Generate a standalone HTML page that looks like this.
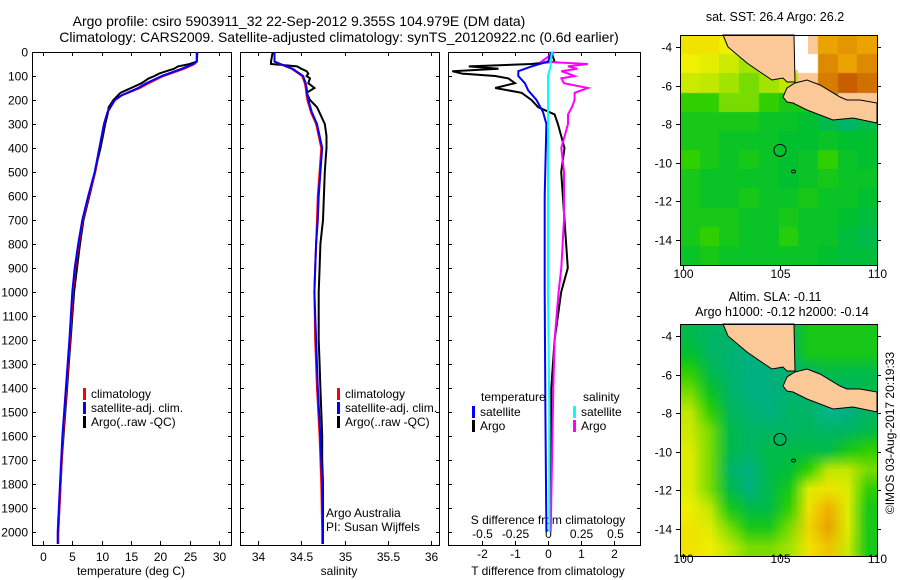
<!DOCTYPE html>
<html><head><meta charset="utf-8"><style>
body{margin:0;background:#fff;width:900px;height:580px;overflow:hidden;position:relative;font-family:"Liberation Sans",sans-serif}
canvas{position:absolute}
svg{position:absolute;left:0;top:0}
text{font-family:"Liberation Sans",sans-serif;font-size:12px;fill:#000}
text.big{font-size:14px}
text.mid{font-size:12.5px}
</style></head><body>
<canvas id="sst" width="197" height="230" style="left:680px;top:35px"></canvas>
<canvas id="sla" width="197" height="232" style="left:680px;top:324px"></canvas>
<svg id="s" width="900" height="580"></svg>
<script>
// ---- data ----
const climDepth=[0,40,50,70,100,130,150,180,200,250,300,400,500,600,700,800,900,1000,1200,1400,1600,1800,2000,2050];
const climTemp=[26.2,26.2,25.8,24,20.5,18,16.5,13.5,12.3,11,10.4,9.6,8.9,7.8,6.8,6.1,5.5,5.1,4.6,4.0,3.4,3.0,2.6,2.6];
const satTemp=[26.2,26.2,25.6,23.6,20.2,17.6,16.2,13.4,12.2,11,10.4,9.6,8.8,7.7,6.7,6.0,5.4,5.0,4.5,3.9,3.3,2.9,2.5,2.5];
const argoDepth=[0,40,50,60,70,80,90,100,110,130,150,170,200,230,260,300,350,400,450,500,600,700,800,900,1000,1100,1200,1300,1400,1500,1600,1700,1800,1900,2000];
const argoTemp=[26.3,26.2,25,23,22.3,21,19.8,19,18,16.8,15,13.2,12,11.2,11,10.6,10.2,9.8,9.3,8.9,7.9,6.9,6.3,5.8,5.3,5.0,4.7,4.4,4.1,3.8,3.5,3.2,3.0,2.8,2.6];
const climSal=[34.19,34.19,34.25,34.39,34.51,34.54,34.55,34.56,34.57,34.61,34.67,34.73,34.71,34.69,34.68,34.67,34.66,34.65,34.66,34.68,34.71,34.73,34.74,34.74];
const satSal=[34.19,34.19,34.26,34.40,34.52,34.55,34.56,34.57,34.58,34.62,34.68,34.74,34.72,34.70,34.69,34.67,34.66,34.65,34.67,34.69,34.72,34.74,34.75,34.75];
const argoSal=[34.17,34.15,34.15,34.45,34.5,34.56,34.58,34.56,34.6,34.58,34.65,34.56,34.6,34.68,34.72,34.77,34.79,34.79,34.78,34.77,34.76,34.75,34.72,34.71,34.70,34.70,34.70,34.71,34.72,34.73,34.74,34.74,34.75,34.75,34.75];
const tDiffDepth=[0,40,60,80,100,130,160,200,250,300,600,1000,1500,2000];
const tSatDiff=[0.1,0,-0.5,-0.9,-0.9,-0.7,-0.6,-0.35,-0.15,-0.05,-0.1,-0.1,-0.08,-0.05];
const sSatDiff=[0.03,0.02,0.02,0.01,0,0,0,0,0,0,0,0,0.01,0.01];
const aDiffDepth=[0,40,50,60,70,80,90,100,110,130,150,170,200,230,260,300,400,500,700,900,1000,1200,1400,1700,2000];
const tArgoDiff=[0.1,0.2,-0.5,-2.4,-1.5,-2.9,-2.6,-1.6,-1.2,-1.0,-1.6,-0.8,-0.5,-0.3,0.2,0.3,0.5,0.4,0.5,0.6,0.4,0.2,0.1,0.1,0.05];
const sArgoDiff=[0.05,-0.05,0.3,0.15,0.22,0.1,0.15,0.2,0.1,0.12,0.3,0.2,0.2,0.18,0.15,0.15,0.1,0.12,0.12,0.1,0.08,0.05,0.04,0.03,0.02];
const depthTicks=[0,100,200,300,400,500,600,700,800,900,1000,1100,1200,1300,1400,1500,1600,1700,1800,1900,2000];
const tempTicks=[0,5,10,15,20,25,30];
const salTicks=[34,34.5,35,35.5,36];
const tdTicks=[-2,-1,0,1,2];
const sdTicks=[-0.5,-0.25,0,0.25,0.5];
const sstGrid=[
[.7,.7,.68,.62,-2,-2,-2,.8,.82,.8],
[.68,.66,.62,.58,.6,-2,-1,.84,.8,.84],
[.62,.6,.58,.55,.58,.6,-2,.86,.9,.88],
[.5,.5,.55,.55,.5,.45,.45,.45,-2,-2],
[.45,.45,.45,.45,.42,.42,.4,.35,.3,.35],
[.45,.45,.42,.42,.42,.4,.4,.42,.4,.4],
[.5,.45,.42,.45,.42,.4,.42,.5,.42,.4],
[.45,.42,.42,.42,.42,.4,.42,.45,.42,.42],
[.45,.42,.42,.45,.42,.42,.45,.42,.42,.4],
[.45,.45,.45,.42,.42,.45,.42,.42,.4,.38],
[.45,.5,.45,.42,.42,.48,.42,.42,.38,.35],
[.42,.45,.42,.42,.42,.42,.42,.4,.38,.38]];
const slaGrid=[
[.35,.3,.3,.3,.3,.3,.45,.45,.45,.45],
[.4,.3,.28,.25,.28,.3,.45,.45,.45,.45],
[.5,.35,.28,.25,.25,.28,.3,.35,.35,.35],
[.55,.42,.3,.25,.25,.28,.28,.3,.3,.35],
[.6,.5,.32,.28,.25,.3,.3,.2,.25,.3],
[.62,.55,.35,.3,.3,.3,.32,.3,.3,.35],
[.65,.55,.35,.3,.35,.35,.35,.35,.45,.5],
[.65,.55,.3,.25,.35,.38,.5,.6,.6,.55],
[.65,.55,.35,.25,.35,.45,.65,.7,.65,.5],
[.68,.6,.45,.35,.35,.5,.7,.78,.65,.45],
[.7,.65,.55,.45,.45,.55,.72,.8,.65,.45],
[.7,.68,.6,.55,.55,.58,.7,.75,.62,.45]];
const lonTicks=[100,105,110];
const latTicks=[-4,-6,-8,-10,-12,-14];
const argoLon=105.0, argoLat=-9.355;

// ---- scales ----
const yD=d=>52+d*0.24;
const xT=t=>43+t*5.87;
const xS=s=>258+(s-34)*86.7;
const xTd=t=>548+t*33;
const xSd=s=>548+s*133;
const mX=lon=>683+(lon-100)*19.4;
const mY=(lat,off)=>47+off+(-4-lat)*19.3;

const NS='http://www.w3.org/2000/svg';
const svg=document.getElementById('s');
function el(tag,attrs,parent){const e=document.createElementNS(NS,tag);for(const k in attrs)e.setAttribute(k,attrs[k]);(parent||svg).appendChild(e);return e;}
function txt(x,y,s,anchor,nm){const t=el('text',{x:x,y:y,'text-anchor':anchor||'start'});t.textContent=s;


return t;}
function pline(xs,ys,color,nm,w){const pts=xs.map((x,i)=>x.toFixed(1)+','+ys[i].toFixed(1)).join(' ');
const p=el('polyline',{points:pts,fill:'none',stroke:color,'stroke-width':w||2});


return p;}
function frameRect(x1,y1,x2,y2,nm){const r=el('rect',{x:x1+.5,y:y1+.5,width:x2-x1,height:y2-y1,fill:'none',stroke:'#000','stroke-width':1});

}
function tick(x1,y1,x2,y2){el('line',{x1:x1,y1:y1,x2:x2,y2:y2,stroke:'#000','stroke-width':1});}

// titles
txt(299,26,'Argo profile: csiro 5903911_32 22-Sep-2012 9.355S 104.979E (DM data)','middle','title-line-1').setAttribute('class','big');
txt(339,42,'Climatology: CARS2009. Satellite-adjusted climatology: synTS_20120922.nc (0.6d earlier)','middle','title-line-2').setAttribute('class','big');

const yTop=52,yBot=545;
frameRect(32,yTop,231,yBot,'temperature-panel');
frameRect(240,yTop,439,yBot,'salinity-panel');
frameRect(448,yTop,640,yBot,'difference-panel');
depthTicks.forEach(d=>{const y=Math.round(yD(d))+.5;txt(28,y+4,String(d),'end','depth-tick-label');
[[32,232],[240,440],[448,641]].forEach(([a,b])=>{tick(a,y,a+4,y);tick(b-4,y,b,y);});});
tempTicks.forEach(t=>{const x=Math.round(xT(t))+.5;tick(x,yTop,x,yTop+4);tick(x,yBot-4,x,yBot);txt(x,561,String(t),'middle','temperature-tick-label');});
salTicks.forEach(s=>{const x=Math.round(xS(s))+.5;tick(x,yTop,x,yTop+4);tick(x,yBot-4,x,yBot);txt(x,561,String(s),'middle','salinity-tick-label');});
tdTicks.forEach(t=>{const x=Math.round(xTd(t))+.5;tick(x,yBot-4,x,yBot);txt(x,558,String(t),'middle','t-diff-tick-label');});
sdTicks.forEach(s=>{const x=Math.round(xSd(s))+.5;tick(x,yTop,x,yTop+4);txt(x,538,String(s),'middle','s-diff-tick-label');});
txt(131,575,'temperature (deg C)','middle','temperature-axis-title');
txt(339,575,'salinity','middle','salinity-axis-title');
txt(548,575,'T difference from climatology','middle','t-diff-axis-title');
txt(548,524,'S difference from climatology','middle','s-diff-axis-title');

// temperature
pline(argoDepth.map((_,i)=>xT(argoTemp[i])),argoDepth.map(yD),'#000','argo-temperature-line');
pline(climDepth.map((_,i)=>xT(climTemp[i])),climDepth.map(yD),'#f00','climatology-temperature-line');
pline(climDepth.map((_,i)=>xT(satTemp[i])),climDepth.map(yD),'#00f','satellite-temperature-line');
// salinity
pline(argoDepth.map((_,i)=>xS(argoSal[i])),argoDepth.map(yD),'#000','argo-salinity-line');
pline(climDepth.map((_,i)=>xS(climSal[i])),climDepth.map(yD),'#f00','climatology-salinity-line');
pline(climDepth.map((_,i)=>xS(satSal[i])),climDepth.map(yD),'#00f','satellite-salinity-line');
// differences
pline(aDiffDepth.map((_,i)=>xTd(tArgoDiff[i])),aDiffDepth.map(yD),'#000','argo-t-diff-line');
pline(aDiffDepth.map((_,i)=>xSd(sArgoDiff[i])),aDiffDepth.map(yD),'#f0f','argo-s-diff-line');
pline(tDiffDepth.map((_,i)=>xTd(tSatDiff[i])),tDiffDepth.map(yD),'#00f','satellite-t-diff-line');
pline(tDiffDepth.map((_,i)=>xSd(sSatDiff[i])),tDiffDepth.map(yD),'#0ff','satellite-s-diff-line');

// legends
function leg(x,y,color,label,nm){const r=el('rect',{x:x,y:y-9,width:3,height:12,fill:color});


txt(x+8,y+1,label,'start',nm);}
leg(83,397,'#f00','climatology','legend-climatology');
leg(83,411,'#00f','satellite-adj. clim.','legend-satellite');
leg(83,425,'#000','Argo(..raw -QC)','legend-argo');
leg(337,397,'#f00','climatology','legend-climatology-sal');
leg(337,411,'#00f','satellite-adj. clim.','legend-satellite-sal');
leg(337,425,'#000','Argo(..raw -QC)','legend-argo-sal');
txt(481,401,'temperature','start','legend-temperature-heading');
txt(583,401,'salinity','start','legend-salinity-heading');
leg(472,415,'#00f','satellite','legend-t-satellite');
leg(472,429,'#000','Argo','legend-t-argo');
leg(573,415,'#0ff','satellite','legend-s-satellite');
leg(573,429,'#f0f','Argo','legend-s-argo');
txt(326,517,'Argo Australia','start','credit-argo-australia');
txt(326,531,'PI: Susan Wijffels','start','credit-pi');

// ---- maps ----
const stops=[[0,[48,208,208]],[0.25,[0,176,128]],[0.4,[0,192,48]],[0.5,[48,208,0]],[0.6,[192,232,0]],[0.68,[240,240,0]],[0.78,[240,176,0]],[0.88,[208,112,0]],[1,[160,0,0]]];
function cmap(v){for(let i=1;i<stops.length;i++){if(v<=stops[i][0]){const a=stops[i-1],b=stops[i],f=(v-a[0])/(b[0]-a[0]);return a[1].map((c,k)=>Math.round(c+(b[1][k]-c)*f));}}return stops[stops.length-1][1];}
function drawGrid(id,grid,smooth){const c=document.getElementById(id),ctx=c.getContext('2d');
const sm=document.createElement('canvas');sm.width=10;sm.height=12;const s=sm.getContext('2d');const im=s.createImageData(10,12);
grid.forEach((row,j)=>row.forEach((v,i)=>{const k=(j*10+i)*4;let col=v===-1?[255,255,255]:v===-2?[251,200,152]:cmap(v);im.data[k]=col[0];im.data[k+1]=col[1];im.data[k+2]=col[2];im.data[k+3]=255;}));
s.putImageData(im,0,0);ctx.imageSmoothingEnabled=smooth;ctx.drawImage(sm,0,0,c.width,c.height);}
drawGrid('sst',sstGrid,false);
drawGrid('sla',slaGrid,true);

const sumatra=[[723,35],[728,47],[747,63],[760,72],[772,80],[783,78],[787,82],[795,82],[794,35]];
const java=[[795,83],[807,80],[820,85],[840,97],[847,100],[860,100],[877,103],[877,123],[853,118],[833,120],[820,115],[807,110],[793,103],[787,102],[783,97],[787,88]];
function drawMap(off,nm,title1,title2){
 if(off===0){const w=el('polygon',{points:'794,35 808,35 808,70 794,70',fill:'#fff'});
 
 }
 [sumatra,java].forEach((poly,pi)=>{const p=el('polygon',{points:poly.map(q=>q[0]+','+(q[1]+off)).join(' '),fill:'#fbc898',stroke:'#000','stroke-width':1});
 
 });
 frameRect(680,35+off,877,265+off+(off?2:0),nm+'-frame');
 lonTicks.forEach(l=>{const x=Math.round(mX(l))+.5;tick(x,265+off,x,270+off);txt(x,(off?563:278),String(l),'middle',nm+'-lon-label');});
 latTicks.forEach(l=>{const y=Math.round(mY(l,off))+.5;tick(676,y,680,y);tick(877,y,881,y);txt(672,y+4,String(l),'end',nm+'-lat-label');});
 const c=el('circle',{cx:mX(argoLon),cy:mY(argoLat,off),r:6,fill:'none',stroke:'#000','stroke-width':1});
 
 
 el('ellipse',{cx:mX(105.7),cy:mY(-10.45,off),rx:2,ry:1.5,fill:'none',stroke:'#000'});
 txt(775,off?301:21,title1,'middle',nm+'-title').setAttribute('class','mid');
 if(title2)txt(782,316,title2,'middle',nm+'-subtitle').setAttribute('class','mid');}
drawMap(0,'sst-map','sat. SST: 26.4 Argo: 26.2');
drawMap(289,'sla-map','Altim. SLA: -0.11','Argo h1000: -0.12 h2000: -0.14');
const cp=txt(0,0,'©IMOS 03-Aug-2017 20:19:33','middle','copyright-timestamp');
cp.setAttribute('transform','translate(894,433) rotate(-90)');
</script>
</body></html>
